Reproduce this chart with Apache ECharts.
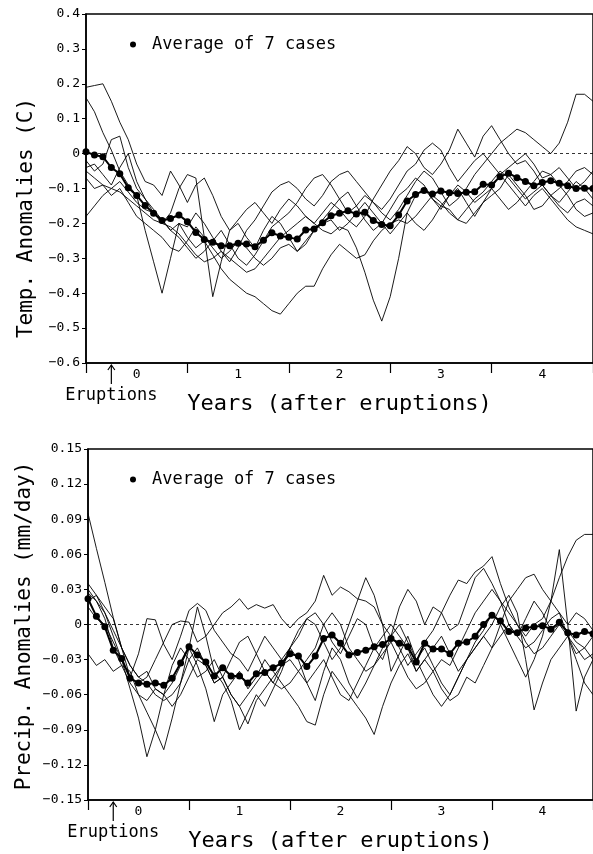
<!DOCTYPE html>
<html>
<head>
<meta charset="utf-8">
<script src="https://cdn.jsdelivr.net/npm/echarts@6/dist/echarts.min.js"></script>
<style>
  html, body { margin: 0; background: #fff; }
  #main { width: 593px; height: 854px; }
</style>
</head>
<body>
<div id="main"></div>
<script>
// months relative to the eruptions (0 = start of year 0), monthly means
var months = [];
for (var m = -6; m <= 54; m++) months.push(m);

var xTickVals = [-0.5, 0.5, 1.5, 2.5, 3.5, 4.5];
var xLabelVals = [0, 1, 2, 3, 4];
var eruptionAt = -0.25;

// temperature anomalies (C)
var tempAvg = [0.005, -0.004, -0.009, -0.04, -0.058, -0.098, -0.12, -0.149, -0.171, -0.192, -0.186, -0.176,
  -0.195, -0.226, -0.246, -0.254, -0.264, -0.264, -0.257, -0.259, -0.267, -0.248, -0.227, -0.236,
  -0.24, -0.245, -0.219, -0.216, -0.198, -0.178, -0.171, -0.164, -0.173, -0.168, -0.192, -0.203,
  -0.207, -0.176, -0.136, -0.117, -0.106, -0.116, -0.107, -0.112, -0.114, -0.111, -0.109, -0.088,
  -0.09, -0.066, -0.056, -0.069, -0.08, -0.092, -0.083, -0.078, -0.085, -0.092, -0.1, -0.099,
  -0.1];
var temp1 = [0.19, 0.195, 0.2, 0.15, 0.09, 0.04, -0.03, -0.08, -0.09, -0.12, -0.05, -0.09,
  -0.14, -0.09, -0.07, -0.12, -0.18, -0.22, -0.19, -0.16, -0.14, -0.17, -0.2, -0.16,
  -0.13, -0.15, -0.18, -0.2, -0.17, -0.14, -0.16, -0.19, -0.21, -0.18, -0.13, -0.09,
  -0.05, -0.02, 0.02, 0.0, -0.04, -0.06, -0.03, 0.01, 0.07, 0.03, -0.01, 0.05,
  0.08, 0.04, 0.0, -0.03, -0.02, -0.05, -0.09, -0.12, -0.14, -0.11, -0.08, -0.1,
  -0.13];
var temp2 = [0.16, 0.12, 0.06, 0.01, -0.05, -0.09, -0.12, -0.22, -0.31, -0.40, -0.30, -0.2,
  -0.21, -0.17, -0.2, -0.24, -0.28, -0.31, -0.27, -0.22, -0.19, -0.15, -0.11, -0.09,
  -0.08, -0.1, -0.13, -0.15, -0.12, -0.08, -0.06, -0.05, -0.08, -0.11, -0.14, -0.16,
  -0.13, -0.09, -0.05, -0.03, 0.01, 0.03, 0.01, -0.04, -0.08, -0.05, -0.02, 0.0,
  -0.03, -0.06, -0.09, -0.12, -0.15, -0.12, -0.1, -0.13, -0.16, -0.19, -0.21, -0.22,
  -0.23];
var temp3 = [-0.02, -0.05, -0.03, 0.04, 0.05, -0.04, -0.1, -0.13, -0.17, -0.2, -0.17, -0.1,
  -0.06, -0.07, -0.24, -0.41, -0.31, -0.22, -0.2, -0.24, -0.27, -0.22, -0.18, -0.2,
  -0.24, -0.28, -0.26, -0.22, -0.19, -0.16, -0.13, -0.11, -0.15, -0.19, -0.22, -0.2,
  -0.16, -0.12, -0.1, -0.07, -0.09, -0.13, -0.15, -0.12, -0.1, -0.14, -0.18, -0.14,
  -0.1, -0.06, -0.04, -0.02, 0.0, -0.03, -0.07, -0.06, -0.04, -0.07, -0.1, -0.08,
  -0.05];
var temp4 = [-0.05, -0.07, -0.09, -0.1, -0.08, -0.11, -0.14, -0.16, -0.17, -0.19, -0.22, -0.2,
  -0.24, -0.27, -0.25, -0.29, -0.33, -0.36, -0.38, -0.4, -0.41, -0.43, -0.45, -0.46,
  -0.43, -0.4, -0.38, -0.38, -0.33, -0.29, -0.26, -0.28, -0.3, -0.29, -0.25, -0.22,
  -0.2, -0.19, -0.2, -0.18, -0.15, -0.12, -0.14, -0.17, -0.19, -0.16, -0.13, -0.11,
  -0.08, -0.05, -0.07, -0.1, -0.13, -0.11, -0.09, -0.12, -0.15, -0.17, -0.14, -0.13,
  -0.15];
var temp5 = [-0.18, -0.15, -0.12, -0.1, -0.11, -0.13, -0.15, -0.17, -0.19, -0.2, -0.21, -0.23,
  -0.26, -0.29, -0.31, -0.3, -0.28, -0.3, -0.32, -0.34, -0.33, -0.3, -0.27, -0.24,
  -0.22, -0.2, -0.18, -0.2, -0.22, -0.23, -0.21, -0.22, -0.27, -0.34, -0.42, -0.48,
  -0.41, -0.3, -0.17, -0.12, -0.1, -0.13, -0.16, -0.12, -0.09, -0.11, -0.14, -0.12,
  -0.1, -0.13, -0.16, -0.14, -0.11, -0.08, -0.05, -0.06, -0.09, -0.12, -0.16, -0.18,
  -0.17];
var temp6 = [-0.04, -0.03, -0.06, -0.09, -0.04, 0.0, -0.08, -0.13, -0.16, -0.19, -0.22, -0.24,
  -0.27, -0.3, -0.28, -0.25, -0.22, -0.26, -0.3, -0.32, -0.29, -0.25, -0.21, -0.19,
  -0.17, -0.14, -0.1, -0.07, -0.06, -0.09, -0.13, -0.17, -0.15, -0.12, -0.14, -0.17,
  -0.19, -0.16, -0.12, -0.08, -0.05, -0.07, -0.11, -0.15, -0.13, -0.1, -0.06, -0.03,
  0.0, 0.03, 0.05, 0.07, 0.06, 0.04, 0.02, 0.0, 0.03, 0.09, 0.17, 0.17,
  0.15];
var temp7 = [-0.07, -0.1, -0.09, -0.12, -0.1, -0.14, -0.18, -0.2, -0.22, -0.24, -0.27, -0.28,
  -0.25, -0.21, -0.24, -0.27, -0.3, -0.28, -0.25, -0.27, -0.3, -0.32, -0.3, -0.27,
  -0.26, -0.28, -0.25, -0.22, -0.2, -0.19, -0.22, -0.2, -0.17, -0.14, -0.17, -0.2,
  -0.23, -0.2, -0.17, -0.2, -0.22, -0.19, -0.15, -0.16, -0.19, -0.2, -0.17, -0.14,
  -0.12, -0.1, -0.06, -0.09, -0.12, -0.16, -0.15, -0.12, -0.1, -0.08, -0.05, -0.04,
  -0.06];

// precipitation anomalies (mm/day)
var precipAvg = [0.022, 0.007, -0.002, -0.022, -0.029, -0.046, -0.05, -0.051, -0.05, -0.052, -0.046, -0.033,
  -0.019, -0.026, -0.032, -0.044, -0.037, -0.044, -0.044, -0.05, -0.042, -0.041, -0.037, -0.033,
  -0.025, -0.027, -0.036, -0.027, -0.012, -0.009, -0.016, -0.026, -0.024, -0.022, -0.019, -0.017,
  -0.012, -0.016, -0.019, -0.032, -0.016, -0.021, -0.021, -0.025, -0.016, -0.015, -0.010, 0.0,
  0.008, 0.003, -0.006, -0.007, -0.003, -0.002, -0.001, -0.004, 0.002, -0.007, -0.009, -0.006,
  -0.008];
var precip1 = [0.095, 0.065, 0.036, 0.006, -0.02, -0.035, -0.045, -0.05, -0.06, -0.065, -0.06, -0.05,
  -0.03, -0.02, -0.035, -0.05, -0.045, -0.03, -0.015, -0.01, -0.025, -0.04, -0.05, -0.055,
  -0.05, -0.04, -0.03, -0.02, 0.0, 0.01, 0.0, -0.02, -0.03, -0.04, -0.035, -0.025,
  -0.015, -0.03, -0.045, -0.055, -0.05, -0.04, -0.03, -0.035, -0.02, -0.005, 0.01, 0.02,
  0.03, 0.02, 0.01, 0.0, -0.01, 0.0, 0.005, 0.02, 0.04, 0.058, 0.072, 0.077,
  0.077];
var precip2 = [0.035, 0.025, 0.01, -0.01, -0.03, -0.055, -0.08, -0.113, -0.09, -0.06, -0.035, -0.02,
  -0.03, -0.045, -0.04, -0.03, -0.045, -0.06, -0.07, -0.06, -0.05, -0.04, -0.05, -0.035,
  -0.02, -0.03, -0.05, -0.065, -0.04, -0.02, -0.03, -0.05, -0.063, -0.05, -0.035, -0.02,
  -0.01, 0.0, -0.015, -0.03, -0.02, -0.035, -0.05, -0.06, -0.045, -0.03, -0.015, -0.005,
  0.01, 0.0, -0.015, -0.03, -0.045, -0.03, -0.01, 0.02, 0.064, 0.0, -0.074, -0.045,
  -0.03];
var precip3 = [0.03, 0.02, 0.005, -0.02, -0.035, -0.04, -0.06, -0.075, -0.09, -0.107, -0.08, -0.05,
  -0.02, 0.015, -0.01, -0.04, -0.05, -0.065, -0.09, -0.075, -0.06, -0.07, -0.055, -0.04,
  -0.02, -0.01, 0.005, 0.0, -0.015, -0.03, -0.02, 0.0, 0.02, 0.04, 0.025, 0.0,
  -0.04, -0.025, -0.01, -0.03, -0.045, -0.06, -0.07, -0.06, -0.045, -0.03, -0.02, -0.01,
  -0.02, -0.01, 0.0, -0.01, -0.02, -0.015, -0.005, 0.005, 0.01, 0.0, 0.01, 0.005,
  -0.005];
var precip4 = [0.015, 0.005, 0.0, -0.015, -0.03, -0.045, -0.05, -0.045, -0.03, -0.015, 0.0, 0.003,
  0.002, -0.015, -0.01, 0.0, 0.01, 0.015, 0.022, 0.013, 0.017, 0.014, 0.017, 0.005,
  -0.003, 0.005, 0.01, 0.02, 0.042, 0.025, 0.032, 0.028, 0.022, 0.02, 0.015, 0.0,
  -0.01, -0.02, -0.035, -0.025, -0.015, -0.005, 0.01, 0.025, 0.038, 0.035, 0.045, 0.05,
  0.058, 0.035, 0.015, 0.0, -0.015, -0.025, -0.02, -0.01, 0.0, -0.005, -0.015, -0.02,
  -0.03];
var precip5 = [0.027, 0.02, 0.01, -0.005, -0.02, -0.035, -0.045, -0.04, -0.055, -0.06, -0.05, -0.035,
  -0.02, -0.035, -0.055, -0.083, -0.06, -0.05, -0.04, -0.055, -0.045, -0.03, -0.04, -0.05,
  -0.06, -0.07, -0.083, -0.086, -0.06, -0.04, -0.05, -0.06, -0.07, -0.08, -0.094, -0.07,
  -0.05, -0.035, -0.025, -0.04, -0.03, -0.02, -0.01, -0.025, -0.04, -0.03, -0.02, -0.01,
  0.0, 0.015, 0.025, 0.01, -0.03, -0.073, -0.05, -0.03, -0.02, -0.01, -0.02, -0.03,
  -0.025];
var precip6 = [-0.025, -0.035, -0.03, -0.04, -0.035, -0.05, -0.06, -0.065, -0.055, -0.06, -0.07, -0.06,
  -0.045, -0.03, -0.035, -0.05, -0.045, -0.06, -0.07, -0.085, -0.065, -0.055, -0.045, -0.035,
  -0.03, -0.04, -0.05, -0.04, -0.03, -0.045, -0.06, -0.065, -0.05, -0.035, -0.02, -0.01,
  0.0, -0.01, -0.02, -0.04, -0.03, -0.04, -0.055, -0.065, -0.06, -0.045, -0.05, -0.035,
  -0.02, 0.0, 0.02, 0.03, 0.04, 0.043, 0.03, 0.02, 0.01, -0.01, -0.03, -0.05,
  -0.06];
var precip7 = [0.02, 0.025, 0.015, 0.005, -0.02, -0.045, -0.025, 0.005, 0.004, -0.017, -0.03, -0.01,
  0.012, 0.018, 0.012, -0.005, -0.015, -0.025, -0.03, -0.04, -0.025, -0.01, -0.02, -0.03,
  -0.02, -0.005, 0.005, 0.01, 0.0, -0.015, -0.025, -0.01, 0.005, 0.0, -0.02, -0.03,
  -0.01, 0.015, 0.03, 0.02, 0.0, 0.015, 0.01, -0.005, 0.0, 0.02, 0.04, 0.048,
  0.035, 0.02, 0.0, -0.01, 0.005, 0.02, 0.01, -0.005, 0.0, -0.01, -0.025, -0.02,
  -0.01];

var FONT = '"DejaVu Sans Mono", monospace';
var AVG_NAME = 'Average of 7 cases';

function pairs(vals) {
  return months.map(function (mo, i) { return [mo / 12, vals[i]]; });
}

function caseLine(vals, idx) {
  return {
    type: 'line', xAxisIndex: idx, yAxisIndex: idx,
    data: pairs(vals), symbol: 'none', silent: true,
    lineStyle: { color: '#000', width: 0.9 }
  };
}

function avgLine(vals, idx) {
  return {
    name: AVG_NAME, type: 'line', xAxisIndex: idx, yAxisIndex: idx, z: 5,
    data: pairs(vals), symbol: 'circle', symbolSize: 7, silent: true,
    itemStyle: { color: '#000' },
    lineStyle: { color: '#000', width: 2 },
    markLine: {
      silent: true, symbol: ['none', 'none'], label: { show: false },
      lineStyle: { color: '#000', width: 0.8, type: [3, 3] },
      data: [{ yAxis: 0 }]
    }
  };
}

function xAxisOf(idx) {
  return {
    type: 'value', gridIndex: idx, min: -0.5, max: 4.5,
    axisLine: { onZero: false, lineStyle: { color: '#000', width: 1.5 } },
    axisTick: { show: true, customValues: xTickVals, length: 10, lineStyle: { color: '#000', width: 1.2 } },
    axisLabel: { customValues: xLabelVals, color: '#000', fontFamily: FONT, fontSize: 13, margin: 5 },
    splitLine: { show: false }
  };
}

function yAxisOf(idx, min, max, step, digits) {
  return {
    type: 'value', gridIndex: idx, min: min, max: max, interval: step,
    axisLine: { show: true, onZero: false, lineStyle: { color: '#000', width: 1.5 } },
    axisTick: { show: true, length: 4, lineStyle: { color: '#000' } },
    axisLabel: {
      color: '#000', fontFamily: FONT, fontSize: 13, margin: 6,
      formatter: function (v) {
        if (Math.abs(v) < 1e-9) return '0';
        return v.toFixed(digits).replace('-', '\u2212');
      }
    },
    splitLine: { show: false }
  };
}

function legendAt(top) {
  return {
    data: [AVG_NAME], left: 125, top: top, selectedMode: false,
    icon: 'circle', itemWidth: 6, itemHeight: 6,
    textStyle: { color: '#000', fontFamily: FONT, fontSize: 17, padding: [0, 0, 0, 11] }
  };
}

var chart = echarts.init(document.getElementById('main'));

chart.setOption({
  animation: false,
  backgroundColor: '#fff',
  legend: [legendAt(31), legendAt(466)],
  grid: [
    { left: 86, top: 14, right: -2, bottom: 491, show: true, borderColor: '#000', borderWidth: 1.5 },
    { left: 88, top: 449, right: -2, bottom: 54, show: true, borderColor: '#000', borderWidth: 1.5 }
  ],
  xAxis: [xAxisOf(0), xAxisOf(1)],
  yAxis: [yAxisOf(0, -0.6, 0.4, 0.1, 1), yAxisOf(1, -0.15, 0.15, 0.03, 2)],
  series: [
    caseLine(temp1, 0), caseLine(temp2, 0), caseLine(temp3, 0), caseLine(temp4, 0),
    caseLine(temp5, 0), caseLine(temp6, 0), caseLine(temp7, 0), avgLine(tempAvg, 0),
    caseLine(precip1, 1), caseLine(precip2, 1), caseLine(precip3, 1), caseLine(precip4, 1),
    caseLine(precip5, 1), caseLine(precip6, 1), caseLine(precip7, 1), avgLine(precipAvg, 1)
  ]
});

// titles and the eruption arrows, placed from the axes
function panelText(idx, yMin, yTitle, yTitleX, yTitleY) {
  var ax = chart.convertToPixel({ xAxisIndex: idx }, eruptionAt);
  var base = chart.convertToPixel({ yAxisIndex: idx }, yMin);
  var mid = chart.convertToPixel({ xAxisIndex: idx }, 2);
  return [
    { type: 'polyline', shape: { points: [[ax - 3.5, base + 7], [ax, base + 2], [ax + 3.5, base + 7]] },
      style: { stroke: '#000', fill: null, lineWidth: 1.2 } },
    { type: 'line', shape: { x1: ax, y1: base + 2, x2: ax, y2: base + 21 },
      style: { stroke: '#000', lineWidth: 1.2 } },
    { type: 'text', x: ax, y: base + 33,
      style: { text: 'Eruptions', font: '17px ' + FONT, fill: '#000', align: 'center', verticalAlign: 'middle' } },
    { type: 'text', x: mid, y: base + 41,
      style: { text: 'Years (after eruptions)', font: '22px ' + FONT, fill: '#000', align: 'center', verticalAlign: 'middle' } },
    { type: 'text', x: yTitleX, y: yTitleY, rotation: Math.PI / 2,
      style: { text: yTitle, font: '21px ' + FONT, fill: '#000', align: 'center', verticalAlign: 'middle' } }
  ];
}

chart.setOption({
  graphic: panelText(0, -0.6, 'Temp. Anomalies (C)', 27, 218)
    .concat(panelText(1, -0.15, 'Precip. Anomalies (mm/day)', 25, 626))
});
</script>
</body>
</html>
